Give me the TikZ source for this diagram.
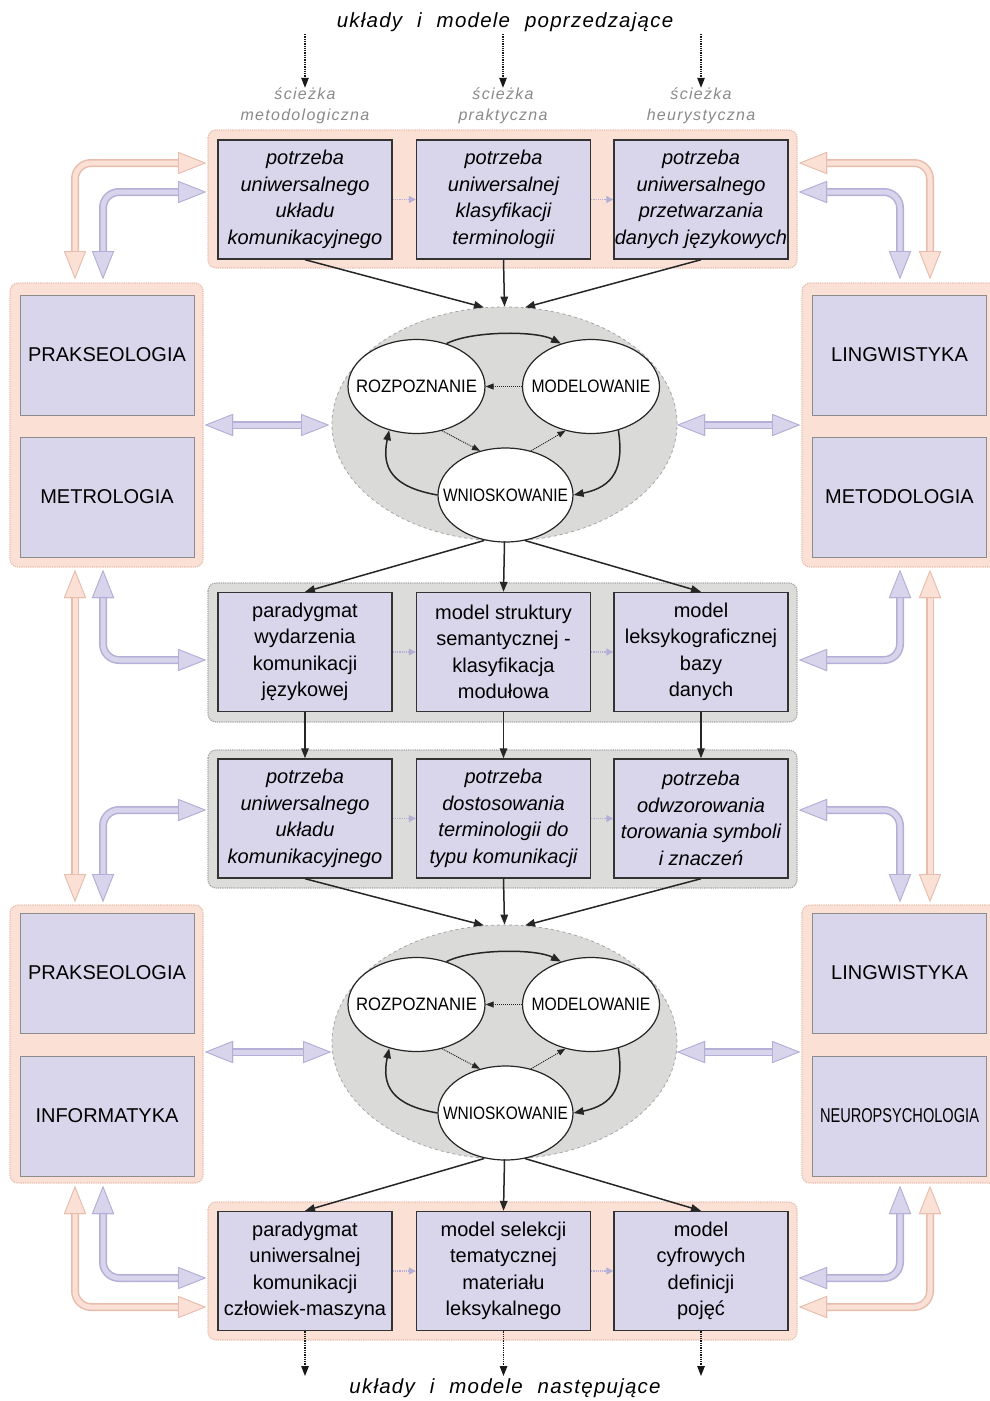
\documentclass[tikz,border=0pt]{standalone}
\usepackage{fontspec}
\usepackage{graphicx}
\setmainfont{Liberation Sans}
\usetikzlibrary{arrows.meta,shapes.geometric,calc}
\definecolor{boxfill}{HTML}{D9D6EC}
\definecolor{pkF}{HTML}{FBE0D5}
\definecolor{pkB}{HTML}{E8BDAD}
\definecolor{lvF}{HTML}{D7D4EC}
\definecolor{lvB}{HTML}{B4AFD6}
\definecolor{grF}{HTML}{DCDCDA}
\definecolor{grB}{HTML}{A5A5A5}
\definecolor{ellF}{HTML}{DADAD8}
\definecolor{lblgray}{HTML}{8A8A8A}
\newcommand{\fatarr}[3]{%
  \draw[line width=8pt,#2,rounded corners=16pt,
    {Triangle[length=28pt,width=22pt,color=#2,fill=#1,line width=0.8pt]}-{Triangle[length=28pt,width=22pt,color=#2,fill=#1,line width=0.8pt]}] #3;
  \draw[line width=5pt,#1,rounded corners=16pt,
    {Triangle[length=28pt,width=22pt,color=#2,fill=#1,line width=0.8pt]}-{Triangle[length=28pt,width=22pt,color=#2,fill=#1,line width=0.8pt]}] #3;}
\begin{document}
\begin{tikzpicture}[x=1pt,y=-1pt,
  every node/.style={inner sep=0pt},
  box/.style={draw=black!80,line width=1.4pt,fill=boxfill,minimum width=174pt,minimum height=119pt,align=center,font=\fontsize{20}{26.5}\selectfont},
  ibox/.style={box,font=\fontsize{20}{26.5}\selectfont\itshape},
  sidebox/.style={draw=black!45,line width=1pt,fill=boxfill,minimum width=174pt,minimum height=120pt,font=\fontsize{20}{24}\selectfont},
  pgroup/.style={rounded corners=8pt,fill=pkF,draw=pkB,densely dotted,line width=1.2pt},
  ggroup/.style={rounded corners=8pt,fill=grF,draw=grB,densely dotted,line width=1.2pt},
  bigell/.style={ellipse,draw=grB,dashed,line width=0.8pt,fill=ellF,minimum width=345pt,minimum height=234pt},
  smell/.style={ellipse,draw=black!85,line width=1.2pt,fill=white,minimum width=137pt,minimum height=94pt,font=\fontsize{18}{20}\selectfont},
  flow/.style={-{Triangle[length=10pt,width=7.5pt]},line width=1.5pt,black!85},
  dflow/.style={-{Triangle[length=10pt,width=7.5pt]},line width=1.3pt,black!90,densely dotted},
  iflow/.style={-{Triangle[length=8pt,width=6pt]},line width=1pt,black!85,densely dotted},
  link/.style={lvB,densely dotted,line width=1.2pt,-{Triangle[length=7pt,width=7pt]}},
  ttl/.style={font=\fontsize{20.5}{24}\selectfont\itshape\addfontfeature{LetterSpace=6}},
  path/.style={font=\fontsize{16}{21}\selectfont\itshape\addfontfeature{LetterSpace=8},text=lblgray,align=center}
  ]
\useasboundingbox (0,0) rectangle (990,1401);
\fill[white] (0,0) rectangle (990,1401);
\clip (0,0) rectangle (990,1401);

% titles
\node[ttl] (top) at (505,22) {układy\hspace{15pt}i\hspace{15pt}modele\hspace{15pt}poprzedzające};
\node[ttl] (bot) at (505,1388) {układy\hspace{15pt}i\hspace{15pt}modele\hspace{15pt}następujące};
\node[path] (p1) at (305,106) {ścieżka\\metodologiczna};
\node[path] (p2) at (503,106) {ścieżka\\praktyczna};
\node[path] (p3) at (701,106) {ścieżka\\heurystyczna};
\coordinate (a1) at (305,34);
\coordinate (a2) at (503,34);
\coordinate (a3) at (701,34);
\draw[dflow] (a1) -- (p1.north);
\draw[dflow] (a2) -- (p2.north);
\draw[dflow] (a3) -- (p3.north);

% groups
\draw[pgroup] (208,130) rectangle (797,268);
\draw[ggroup] (208,583) rectangle (797,722);
\draw[ggroup] (208,750) rectangle (797,888);
\draw[pgroup] (208,1202) rectangle (797,1340);
\draw[pgroup] (10,283) rectangle (203,567);
\draw[pgroup] (802,283) rectangle (1000,567);
\draw[pgroup] (10,905) rectangle (203,1183);
\draw[pgroup] (802,905) rectangle (1000,1183);

% side boxes
\node[sidebox] (s1) at (107,355) {PRAKSEOLOGIA};
\node[sidebox] (s2) at (107,497) {METROLOGIA};
\node[sidebox] (s3) at (899.5,355) {LINGWISTYKA};
\node[sidebox] (s4) at (899.5,497) {METODOLOGIA};
\node[sidebox] (s5) at (107,973) {PRAKSEOLOGIA};
\node[sidebox] (s6) at (107,1116) {INFORMATYKA};
\node[sidebox] (s7) at (899.5,973) {LINGWISTYKA};
\node[sidebox] (s8) at (899.5,1116) {\scalebox{0.73}[1]{NEUROPSYCHOLOGIA}};

% row boxes
\node[ibox] (t1) at (305,199.5) {potrzeba\\uniwersalnego\\układu\\komunikacyjnego};
\node[ibox] (t2) at (503.5,199.5) {potrzeba\\uniwersalnej\\klasyfikacji\\terminologii};
\node[ibox] (t3) at (701,199.5) {potrzeba\\uniwersalnego\\przetwarzania\\danych językowych};
\node[box] (m1) at (305,652) {paradygmat\\wydarzenia\\komunikacji\\językowej};
\node[box] (m2) at (503.5,652) {model struktury\\semantycznej -\\klasyfikacja\\modułowa};
\node[box] (m3) at (701,652) {model\\leksykograficznej\\bazy\\danych};
\node[ibox] (n1) at (305,818.5) {potrzeba\\uniwersalnego\\układu\\komunikacyjnego};
\node[ibox] (n2) at (503.5,818.5) {potrzeba\\dostosowania\\terminologii do\\typu komunikacji};
\node[ibox] (n3) at (701,818.5) {potrzeba\\odwzorowania\\torowania symboli\\i znaczeń};
\node[box] (b1) at (305,1271) {paradygmat\\uniwersalnej\\komunikacji\\człowiek-maszyna};
\node[box] (b2) at (503.5,1271) {model selekcji\\tematycznej\\materiału\\leksykalnego};
\node[box] (b3) at (701,1271) {model\\cyfrowych\\definicji\\pojęć};

\foreach \r in {t,m,n,b}{
  \draw[link] (\r1.east) -- (\r2.west);
  \draw[link] (\r2.east) -- (\r3.west);
}

% ellipses
\foreach \i/\dy in {1/0,2/618}{
  \node[bigell] (e\i) at (504.5,424+\dy) {};
  \node[smell] (roz\i) at (416.5,386.5+\dy) {\makebox[0pt]{\scalebox{0.93}[1]{ROZPOZNANIE}}};
  \node[smell] (mod\i) at (591,386.5+\dy) {\makebox[0pt]{\scalebox{0.87}[1]{MODELOWANIE}}};
  \node[smell,minimum width=135pt] (wn\i) at (505.5,495+\dy) {\makebox[0pt]{\scalebox{0.86}[1]{WNIOSKOWANIE}}};
  \draw[flow] (roz\i.55) .. controls +(25,-13) and +(-25,-13) .. (mod\i.125);
  \draw[iflow] (mod\i.west) -- (roz\i.east);
  \draw[iflow] (roz\i.-60) -- (wn\i.120);
  \draw[iflow] (wn\i.60) -- (mod\i.-120);
  \draw[flow] (wn\i.west) .. controls +(-45,-8) and +(-8,38) .. (roz\i.-122);
  \draw[flow] (mod\i.-58) .. controls +(6,38) and +(40,-8) .. (wn\i.east);
}

% main flow
\draw[flow] (t1.south) -- (e1.100);
\draw[flow] (t2.south) -- (e1.90);
\draw[flow] (t3.south) -- (e1.80);
\draw[flow] (e1.260) -- (m1.north);
\draw[flow] (e1.270) -- (m2.north);
\draw[flow] (e1.280) -- (m3.north);
\draw[flow] (m1.south) -- (n1.north);
\draw[flow] (m2.south) -- (n2.north);
\draw[flow] (m3.south) -- (n3.north);
\draw[flow] (n1.south) -- (e2.100);
\draw[flow] (n2.south) -- (e2.90);
\draw[flow] (n3.south) -- (e2.80);
\draw[flow] (e2.260) -- (b1.north);
\draw[flow] (e2.270) -- (b2.north);
\draw[flow] (e2.280) -- (b3.north);
\coordinate (o1) at (305,1376);
\coordinate (o2) at (503.5,1376);
\coordinate (o3) at (701,1376);
\draw[dflow] (b1.south) -- (o1);
\draw[dflow] (b2.south) -- (o2);
\draw[dflow] (b3.south) -- (o3);

% fat side arrows
\fatarr{pkF}{pkB}{(75,279) -- (75,163) -- (206,163)}
\fatarr{lvF}{lvB}{(103,279) -- (103,192) -- (206,192)}
\fatarr{pkF}{pkB}{(930,279) -- (930,163) -- (799,163)}
\fatarr{lvF}{lvB}{(900,279) -- (900,192) -- (799,192)}
\fatarr{lvF}{lvB}{(205,425) -- (329,425)}
\fatarr{lvF}{lvB}{(677,425) -- (800,425)}
\fatarr{pkF}{pkB}{(75,570) -- (75,902)}
\fatarr{pkF}{pkB}{(930,570) -- (930,902)}
\fatarr{lvF}{lvB}{(103,570) -- (103,660) -- (206,660)}
\fatarr{lvF}{lvB}{(900,570) -- (900,660) -- (799,660)}
\fatarr{lvF}{lvB}{(206,810) -- (103,810) -- (103,902)}
\fatarr{lvF}{lvB}{(799,810) -- (900,810) -- (900,902)}
\fatarr{lvF}{lvB}{(205,1052) -- (331,1052)}
\fatarr{lvF}{lvB}{(677,1052) -- (800,1052)}
\fatarr{lvF}{lvB}{(103,1186) -- (103,1278) -- (206,1278)}
\fatarr{pkF}{pkB}{(75,1186) -- (75,1307) -- (206,1307)}
\fatarr{lvF}{lvB}{(900,1186) -- (900,1278) -- (799,1278)}
\fatarr{pkF}{pkB}{(930,1186) -- (930,1307) -- (799,1307)}
\end{tikzpicture}
\end{document}
